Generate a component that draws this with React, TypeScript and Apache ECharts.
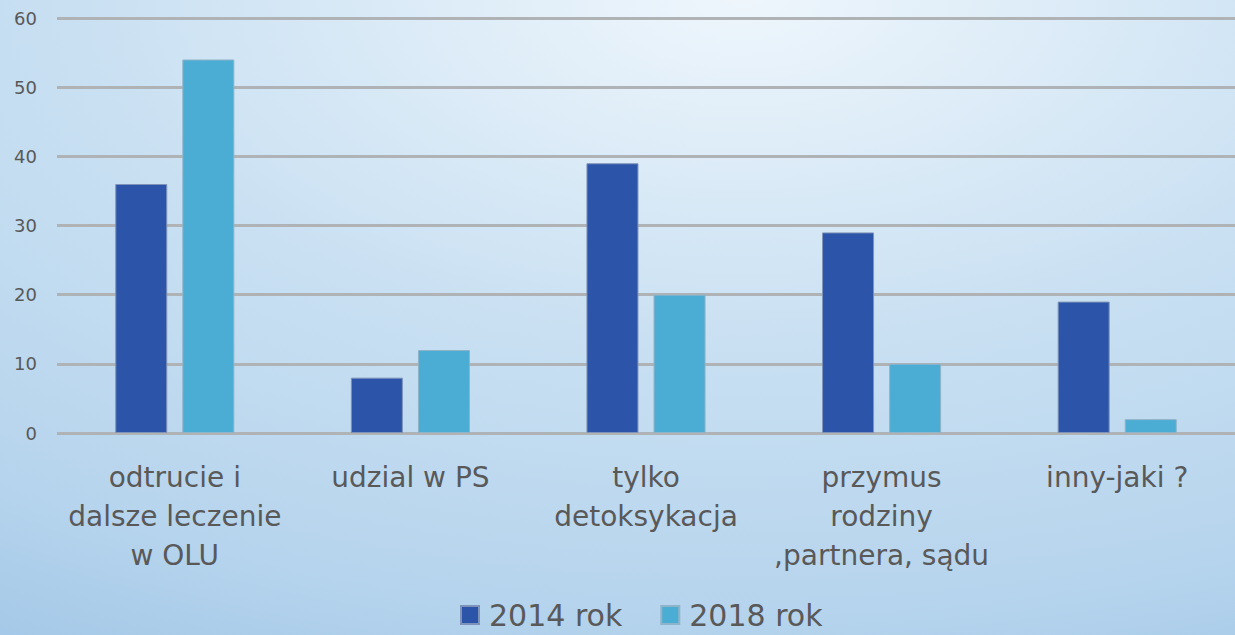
import React, { useEffect, useRef } from "react";
import * as echarts from "echarts";

const categories = [
  "odtrucie i\ndalsze leczenie\nw OLU",
  "udzial w PS",
  "tylko\ndetoksykacja",
  "przymus\nrodziny\n,partnera, sądu",
  "inny-jaki ?",
];
const seriesNames = ["2014 rok", "2018 rok"];
const values2014 = [36, 8, 39, 29, 19];
const values2018 = [54, 12, 20, 10, 2];
const yTicks = { min: 0, max: 60, interval: 10 };

export default function App() {
  const ref = useRef<HTMLDivElement>(null);
  useEffect(() => {
    if (!ref.current) return;
    const chart = echarts.init(ref.current, null, { renderer: "svg" });
    const font = "DejaVu Sans";
    chart.setOption({
      animation: false,
      backgroundColor: new echarts.graphic.RadialGradient(0.6, 0, 1.2, [
        { offset: 0, color: "#eef6fc" },
        { offset: 0.45, color: "#c9e0f2" },
        { offset: 0.8, color: "#b6d4ed" },
        { offset: 1, color: "#a2c7e7" },
      ]),
      textStyle: { fontFamily: font },
      grid: { left: 57, right: 0, top: 18, bottom: 202, containLabel: false },
      legend: {
        bottom: 0,
        left: 455,
        itemWidth: 18,
        itemHeight: 18,
        itemGap: 38,
        icon: "rect",
        textStyle: {
          fontSize: 30,
          color: "#595959",
          fontFamily: font,
          padding: [0, 0, 0, 5],
        },
        data: seriesNames,
      },
      xAxis: {
        type: "category",
        data: categories,
        axisLine: { show: false },
        axisTick: { show: false },
        axisLabel: {
          color: "#595959",
          fontSize: 28,
          lineHeight: 39,
          margin: 25,
          interval: 0,
          fontFamily: font,
        },
      },
      yAxis: {
        type: "value",
        min: yTicks.min,
        max: yTicks.max,
        interval: yTicks.interval,
        axisLine: { show: false },
        axisTick: { show: false },
        axisLabel: { color: "#595959", fontSize: 18, margin: 20, fontFamily: font },
        splitLine: { lineStyle: { color: "#b0b3b6", width: 3 } },
      },
      series: [
        {
          name: seriesNames[0],
          type: "bar",
          data: values2014,
          barWidth: 52,
          barGap: "29%",
          itemStyle: { color: "#2c54a8", borderColor: "#7f93b8", borderWidth: 1 },
        },
        {
          name: seriesNames[1],
          type: "bar",
          data: values2018,
          barWidth: 52,
          barGap: "29%",
          itemStyle: { color: "#4badd3", borderColor: "#8fb3c8", borderWidth: 1 },
        },
      ],
    });
    return () => chart.dispose();
  }, []);
  return (
    <div
      ref={ref}
      style={{ position: "absolute", left: 0, top: 0, width: 1235, height: 635 }}
    />
  );
}
